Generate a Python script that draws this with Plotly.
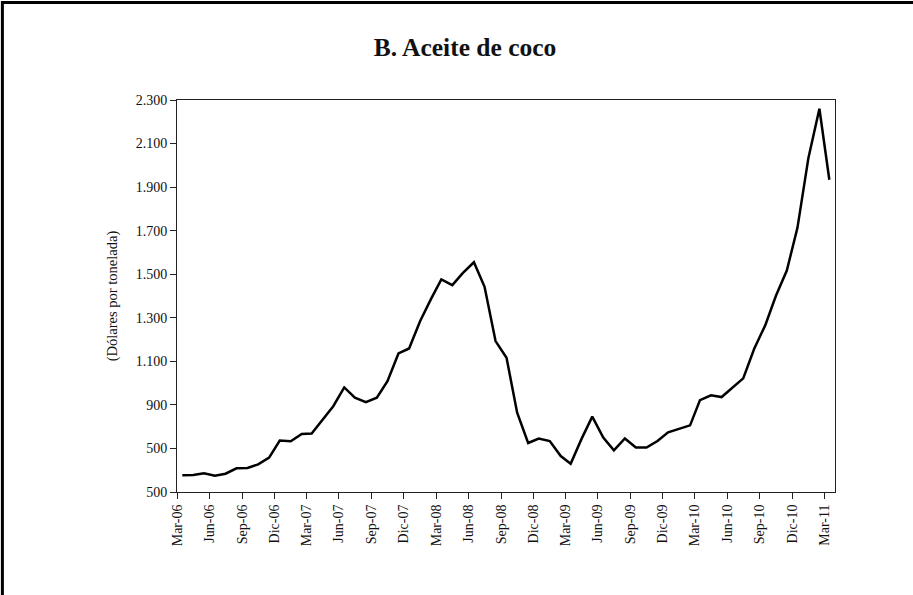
import pandas as pd
import plotly.graph_objects as go

# monthly coconut oil price, Mar-06 .. Mar-11 (USD per ton)
months = pd.date_range("2006-03-01", "2011-03-01", freq="MS")
prices = [
    577, 578, 586, 575, 584, 609, 610, 627, 658, 736, 733, 766,
    769, 830, 894, 980, 933, 913, 933, 1009, 1136, 1159, 1284, 1387,
    1476, 1450, 1506, 1555, 1442, 1193, 1116, 864, 725, 745, 734, 665,
    630, 745, 846, 750, 691, 746, 704, 704, 734, 774, 791, 806,
    922, 944, 936, 982, 1022, 1158, 1265, 1400, 1517, 1713, 2034, 2260,
    1934,
]

tick_dates = pd.date_range("2006-03-01", "2011-03-01", freq="3MS")
mes = {3: "Mar", 6: "Jun", 9: "Sep", 12: "Dic"}
tick_labels = [f"{mes[d.month]}-{d.strftime('%y')}" for d in tick_dates]

y_ticks = list(range(500, 2301, 200))
y_labels = ["500", "500", "900", "1.100", "1.300", "1.500", "1.700", "1.900", "2.100", "2.300"]

# point sits in the middle of its month, ticks at month starts
x_mid = months + pd.Timedelta(days=15)

fig = go.Figure()
fig.add_trace(go.Scatter(
    x=x_mid, y=prices, mode="lines",
    line=dict(color="black", width=2.5),
    showlegend=False,
))

serif = "Liberation Serif"
W, H = 913, 595
ml, mt = 177, 100
pw, ph = 657.6, 392.4
mr, mb = W - ml - pw, H - mt - ph

fig.update_layout(
    width=W, height=H, autosize=False,
    paper_bgcolor="white", plot_bgcolor="white",
    margin=dict(l=ml, r=mr, t=mt, b=mb),
    font=dict(family=serif, color="#111", size=14),
    title=dict(text="<b>B. Aceite de coco</b>", x=465 / W, xanchor="center",
               y=1 - 47 / H, yanchor="middle",
               font=dict(family=serif, size=25.5, color="#111")),
    xaxis=dict(
        range=["2006-03-01", "2011-04-01"],
        tickmode="array", tickvals=tick_dates, ticktext=tick_labels,
        tickangle=-90, ticks="outside", ticklen=6, tickcolor="#222",
        showgrid=False, zeroline=False,
        showline=True, linecolor="#222", linewidth=1, mirror=True,
        tickfont=dict(family=serif, size=14),
    ),
    yaxis=dict(
        range=[500, 2300],
        tickmode="array", tickvals=y_ticks, ticktext=y_labels,
        ticks="outside", ticklen=6, tickcolor="#222",
        showgrid=False, zeroline=False,
        showline=True, linecolor="#222", linewidth=1, mirror=True,
        tickfont=dict(family=serif, size=14),
        title=dict(text="(Dólares por tonelada)", standoff=14,
                   font=dict(family=serif, size=14.5)),
    ),
)

# outer frame of the panel (only top and left edges fall inside the image)
fig.add_shape(
    type="rect", xref="paper", yref="paper",
    x0=(2.5 - ml) / pw, x1=(W + 40 - ml) / pw,
    y0=(mt + ph - (H + 40)) / ph, y1=(mt + ph - 2.5) / ph,
    line=dict(color="black", width=3), fillcolor="rgba(0,0,0,0)",
)

# drop the default page margin so the figure sits at the window corner
fig.write_html("out.html", config={"displayModeBar": False},
               post_script="document.body.style.margin='0';")
